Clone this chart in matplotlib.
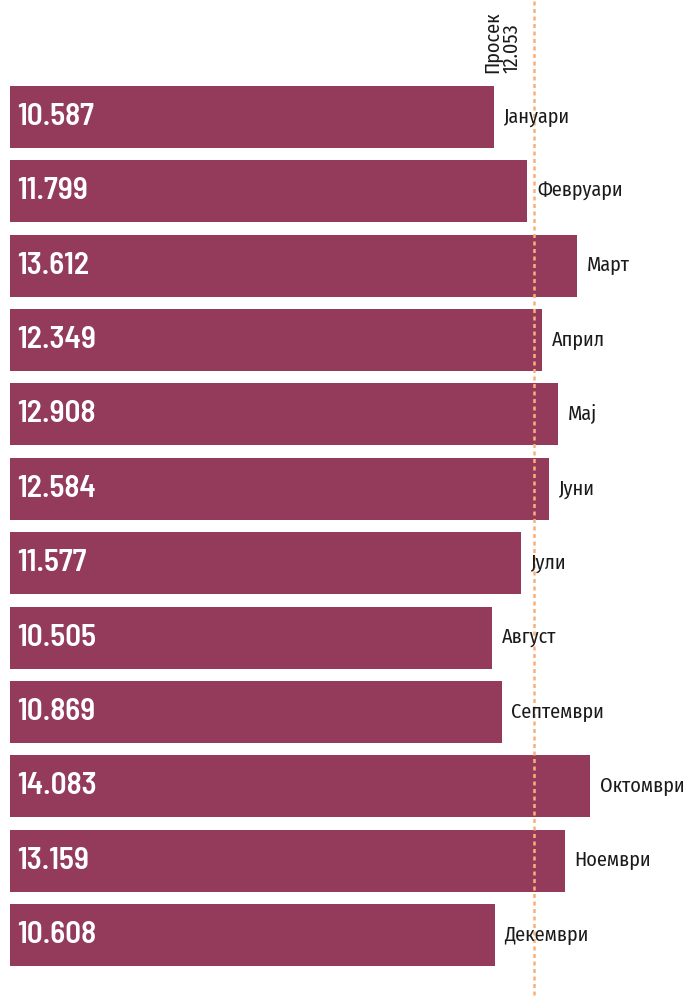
import numpy as np
import matplotlib.pyplot as plt

plt.rcParams['font.family'] = ['Fira Sans Condensed', 'DejaVu Sans']
plt.rcParams['font.stretch'] = 'condensed'
num_family = ['Barlow Semi Condensed', 'Fira Sans Condensed', 'DejaVu Sans']

months = ['Јануари', 'Февруари', 'Март', 'Април', 'Мај', 'Јуни',
          'Јули', 'Август', 'Септември', 'Октомври', 'Ноември', 'Декември']
values = [10.587, 11.799, 13.612, 12.349, 12.908, 12.584,
          11.577, 10.505, 10.869, 14.083, 13.159, 10.608]
average = 12.053
avg_label = 'Просек\n12.053'

bar_color = '#943b5c'
line_color = '#f9b07a'
base = -7.08

fig = plt.figure(figsize=(6.88, 10), dpi=100)
ax = fig.add_axes([0, 0, 1, 1])

y = np.arange(len(values))
vals = np.array(values)
ax.barh(y, vals - base, left=base, height=0.834, color=bar_color, zorder=2)

for yi, v, m in zip(y, vals, months):
    ax.text(base + 0.25, yi, f'{v:.3f}', color='white', fontsize=22.5,
            fontweight='semibold', family=num_family, va='center',
            ha='left', zorder=4)
    ax.text(v + 0.35, yi, m, color='#1a1a1a', fontsize=14.5,
            va='center', ha='left', zorder=4)

ax.axvline(average, ymin=0.005, ymax=1, color=line_color, lw=1.8,
           linestyle=(0, (1.6, 1.4)), zorder=3)
ax.text(average - 0.45, -0.59, avg_label, rotation=90, fontsize=14.5,
        color='#1a1a1a', ha='right', va='bottom', multialignment='left',
        linespacing=1.0)

ax.set_xlim(-7.445, 17.66)
ax.set_ylim(11.874, -1.573)
ax.axis('off')

fig.savefig('out.png', dpi=100)
